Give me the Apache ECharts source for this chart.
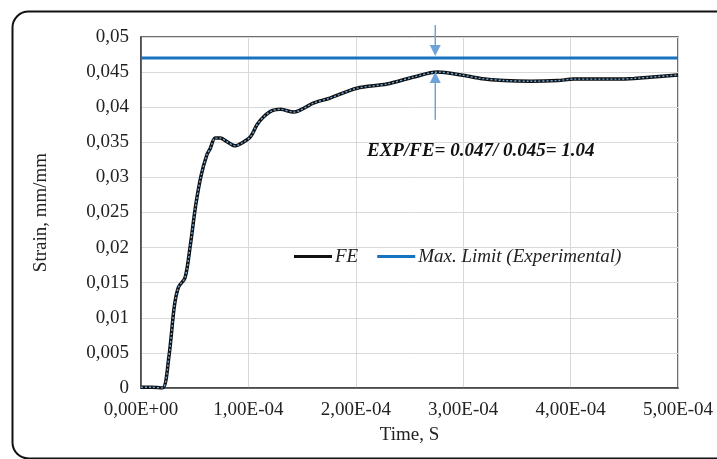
<!DOCTYPE html>
<html>
<head>
<meta charset="utf-8">
<script src="https://cdn.jsdelivr.net/npm/echarts@6/dist/echarts.min.js"></script>
<style>
  html, body { margin: 0; padding: 0; background: #fff; }
  #main { width: 717px; height: 459px; }
</style>
</head>
<body>
<div id="main"></div>
<script>
// time in units of 1e-4 s, strain in mm/mm
var feTime = [0, 0.1, 0.2, 0.26, 0.31, 0.35, 0.41, 0.457, 0.51, 0.56, 0.613, 0.644, 0.69, 0.737,
  0.8, 0.877, 0.94, 1.02, 1.08, 1.14, 1.22, 1.3, 1.42, 1.61, 1.76, 2.01, 2.29, 2.54, 2.76,
  2.98, 3.16, 3.38, 3.63, 3.88, 4.03, 4.44, 4.59, 5.0];
var feStrain = [0.0001, 0.0001, 0, 0.0045, 0.0116, 0.0144, 0.0157, 0.0201, 0.0261, 0.0303, 0.0332,
  0.0341, 0.0356, 0.0356, 0.0351, 0.0345, 0.0349, 0.0358, 0.0375, 0.0386, 0.0395, 0.0397,
  0.0393, 0.0406, 0.0413, 0.0427, 0.0433, 0.0443, 0.045, 0.0446, 0.0441, 0.0438, 0.0437,
  0.0438, 0.044, 0.044, 0.0441, 0.0446];
var expLimit = 0.047;
var arrowTime = 2.74;
// [from, to] strain of the two arrows
var arrowDown = [0.0517, 0.0473];
var arrowUp = [0.0382, 0.0450];
var xTicks = ['0,00E+00', '1,00E-04', '2,00E-04', '3,00E-04', '4,00E-04', '5,00E-04'];

var serif = '"Liberation Serif", "Times New Roman", serif';
var feData = feTime.map(function (t, i) { return [t * 1e-4, feStrain[i]]; });

var chart = echarts.init(document.getElementById('main'));
chart.setOption({
  animation: false,
  backgroundColor: '#fff',
  grid: { left: 141, right: 39, top: 37, bottom: 71, show: true, borderColor: '#404040', borderWidth: 1.5 },
  xAxis: {
    type: 'value', min: 0, max: 5e-4, interval: 1e-4,
    name: 'Time, S', nameLocation: 'middle', nameGap: 38,
    nameTextStyle: { fontFamily: serif, fontSize: 19, color: '#222' },
    axisLine: { lineStyle: { color: '#404040', width: 1.5 } },
    axisTick: { show: false },
    axisLabel: {
      fontFamily: serif, fontSize: 19, color: '#222', margin: 13,
      formatter: function (v) { return xTicks[Math.round(v / 1e-4)]; }
    },
    splitLine: { lineStyle: { color: '#d9d9d9', width: 1 } }
  },
  yAxis: {
    type: 'value', min: 0, max: 0.05, interval: 0.005,
    name: 'Strain, mm/mm', nameLocation: 'middle', nameGap: 90,
    nameTextStyle: { fontFamily: serif, fontSize: 19, color: '#222' },
    axisLine: { show: true, lineStyle: { color: '#404040', width: 1.5 } },
    axisTick: { show: false },
    axisLabel: {
      fontFamily: serif, fontSize: 19, color: '#222', margin: 12,
      formatter: function (v) { return String(+v.toFixed(3)).replace('.', ','); }
    },
    splitLine: { lineStyle: { color: '#d9d9d9', width: 1 } }
  },
  legend: {
    left: 289, top: 242, itemWidth: 38, itemHeight: 3, itemGap: 19, icon: 'rect',
    data: ['FE', 'Max. Limit (Experimental)'],
    textStyle: { fontFamily: serif, fontSize: 19, fontStyle: 'italic', color: '#222', padding: [0, 0, 0, -2] }
  },
  series: [
    {
      name: 'FE', type: 'line', data: feData, symbol: 'none', smooth: 0.3,
      lineStyle: { color: '#111', width: 3.5 }, itemStyle: { color: '#111' }, z: 3
    },
    {
      name: 'FE-overlay', type: 'line', data: feData, symbol: 'none', smooth: 0.3,
      lineStyle: { color: '#6fa8dc', width: 1.4, type: [2, 2] }, z: 4, silent: true
    },
    {
      name: 'Max. Limit (Experimental)', type: 'line', symbol: 'none',
      data: [[0, expLimit], [5e-4, expLimit]],
      lineStyle: { color: '#1a73c0', width: 3 }, itemStyle: { color: '#1a73c0' }, z: 2
    }
  ],
  graphic: [
    {
      id: 'frame', type: 'rect', left: 10, top: 9, z: -1, silent: true,
      shape: { width: 740, height: 447, r: 16 },
      style: { fill: 'none', stroke: '#111', lineWidth: 2 }
    },
    {
      id: 'ratio', type: 'text', left: 367, top: 142, z: 10,
      style: {
        text: 'EXP/FE= 0.047/ 0.045= 1.04', fill: '#111',
        font: 'italic bold 19px ' + serif
      }
    }
  ]
});

// arrows pointing at the limit line and at the FE peak
function arrow(id, from, to) {
  var p0 = chart.convertToPixel({ gridIndex: 0 }, [arrowTime * 1e-4, from]);
  var p1 = chart.convertToPixel({ gridIndex: 0 }, [arrowTime * 1e-4, to]);
  var dir = p1[1] > p0[1] ? 1 : -1;
  var headLen = 11, headW = 5.5;
  var base = p1[1] - dir * headLen;
  return [
    {
      id: id + '-shaft', type: 'line', z: 20, silent: true,
      shape: { x1: p0[0], y1: p0[1], x2: p1[0], y2: base },
      style: { stroke: '#6fa3d8', lineWidth: 1.5 }
    },
    {
      id: id + '-head', type: 'polygon', z: 20, silent: true,
      shape: { points: [[p1[0], p1[1]], [p1[0] - headW, base], [p1[0] + headW, base]] },
      style: { fill: '#6fa3d8' }
    }
  ];
}
chart.setOption({
  graphic: arrow('down', arrowDown[0], arrowDown[1]).concat(arrow('up', arrowUp[0], arrowUp[1]))
});
</script>
</body>
</html>
